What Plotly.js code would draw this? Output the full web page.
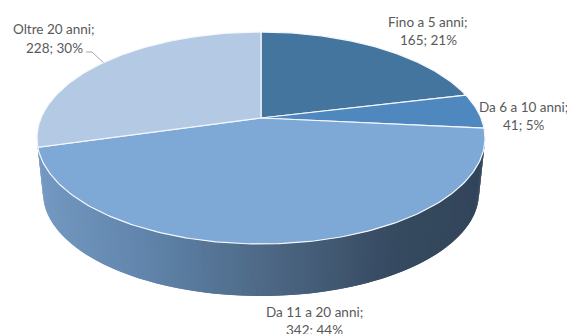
<!DOCTYPE html>
<html>
<head>
<meta charset="utf-8">
<script src="https://cdn.plot.ly/plotly-3.0.1.min.js"></script>
<style>html,body{margin:0;padding:0;background:#fff}#chart{width:567px;height:334px}</style>
</head>
<body>
<div id="chart"></div>
<script>
// Anzianità: number of people per seniority band
const categories = ["Fino a 5 anni", "Da 6 a 10 anni", "Da 11 a 20 anni", "Oltre 20 anni"];
const values = [165, 41, 342, 228];
const percents = [21, 5, 44, 30];
const sliceColors = ["#44759f", "#4f88bf", "#7ea8d6", "#b4c9e3"];

// Label centres in chart pixels: [x, first line y, second line y]
const labelPositions = [[428, 22, 40], [523, 107, 125], [314, 312, 330], [54, 29, 48]];

// Tilted-disc projection
const centre = {x: 261, y: 118};
const radius = {x: 220, y: 102.2};
const tilt = 0.1887;
const base = {y: 173.4, scale: 0.973};
const wallStops = [[37, "#7499c2"], [150, "#5f83a9"], [284, "#4a6480"], [400, "#35495f"], [485, "#32455b"]];

function project(angle, level) {
  const u = Math.sin(angle), v = Math.cos(angle), w = 1 + tilt * v;
  const s = level ? base.scale : 1;
  return [centre.x + s * radius.x * u / w, (level ? base.y : centre.y) - s * radius.y * v / w];
}

function hexToRgb(h) {
  return [1, 3, 5].map(i => parseInt(h.slice(i, i + 2), 16));
}

function wallColor(x) {
  for (let i = 1; i < wallStops.length; i++) {
    if (x <= wallStops[i][0]) {
      const [x0, c0] = wallStops[i - 1], [x1, c1] = wallStops[i];
      const t = Math.max(0, (x - x0) / (x1 - x0));
      const a = hexToRgb(c0), b = hexToRgb(c1);
      return "rgb(" + a.map((n, k) => Math.round(n + (b[k] - n) * t)).join(",") + ")";
    }
  }
  return wallStops[wallStops.length - 1][1];
}

const traces = [];
const common = {mode: "lines", fill: "toself", hoverinfo: "skip", showlegend: false};

// Side wall: overlapping bands along the front of the disc, painted right to left
const widest = Math.PI / 2 + Math.asin(tilt);
const wallSteps = 150;
const wallSpan = 2 * Math.PI - 2 * widest;
for (let i = 0; i < wallSteps; i++) {
  const a0 = widest + wallSpan * i / wallSteps;
  const a1 = widest + wallSpan * Math.min(i + 2, wallSteps) / wallSteps;
  const corners = [project(a0, 0), project(a1, 0), project(a1, 1), project(a0, 1)];
  traces.push(Object.assign({}, common, {
    x: corners.map(p => p[0]).concat(corners[0][0]),
    y: corners.map(p => p[1]).concat(corners[0][1]),
    fillcolor: wallColor(project(widest + wallSpan * (i + 0.5) / wallSteps, 0)[0]),
    line: {width: 0}
  }));
}

// Top face: one wedge per category
const total = values.reduce((a, b) => a + b, 0);
let running = 0;
const midAngles = [];
values.forEach((value, i) => {
  const start = running / total * 2 * Math.PI;
  running += value;
  const end = running / total * 2 * Math.PI;
  midAngles.push((start + end) / 2);
  const xs = [centre.x], ys = [centre.y];
  const n = Math.ceil((end - start) * 60);
  for (let k = 0; k <= n; k++) {
    const p = project(start + (end - start) * k / n, 0);
    xs.push(p[0]);
    ys.push(p[1]);
  }
  xs.push(centre.x);
  ys.push(centre.y);
  traces.push(Object.assign({}, common, {
    name: categories[i], x: xs, y: ys,
    fillcolor: sliceColors[i],
    line: {color: "#f4f7fb", width: 1.2}
  }));
});

// Leader line for the last label
const leaderEnd = project(midAngles[3], 0);
traces.push({
  x: [86, 92, leaderEnd[0]], y: [52, 52, leaderEnd[1]],
  mode: "lines", hoverinfo: "skip", showlegend: false,
  line: {color: "#a6a6a6", width: 1}
});

// Each label is two centred lines
const annotations = [];
categories.forEach((name, i) => {
  const [x, y1, y2] = labelPositions[i];
  [[name + ";", y1], [values[i] + "; " + percents[i] + "%", y2]].forEach(([text, y]) => {
    annotations.push({
      x, y, text, xref: "x", yref: "y", showarrow: false,
      xanchor: "center", yanchor: "middle",
      font: {family: "Lato, Carlito, sans-serif", size: 13.5, color: "#595959"}
    });
  });
});

Plotly.newPlot("chart", traces, {
  width: 567, height: 334,
  margin: {l: 0, r: 0, t: 0, b: 0},
  paper_bgcolor: "#ffffff", plot_bgcolor: "#ffffff",
  showlegend: false,
  xaxis: {range: [0, 567], visible: false, fixedrange: true},
  yaxis: {range: [334, 0], visible: false, fixedrange: true},
  annotations
}, {displayModeBar: false, staticPlot: true});
</script>
</body>
</html>
